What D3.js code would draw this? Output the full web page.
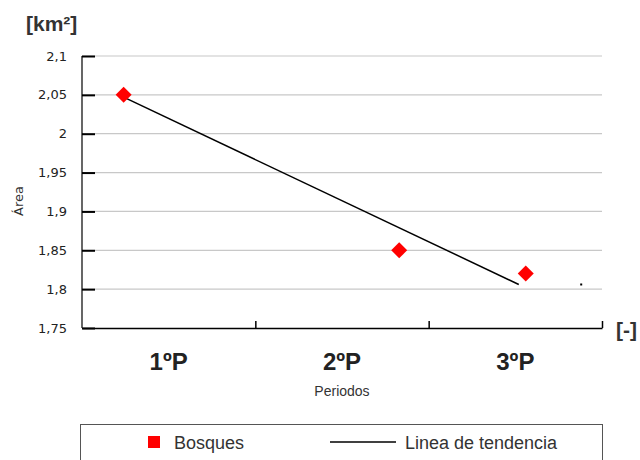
<!DOCTYPE html>
<html>
<head>
<meta charset="utf-8">
<script src="https://cdn.jsdelivr.net/npm/d3@7"></script>
<style>
  body { margin: 0; background: #fff; }
  text { font-family: "Liberation Sans", Arial, sans-serif; }
  .sm { font-family: "DejaVu Sans", Verdana, sans-serif; }
</style>
</head>
<body>
<svg id="chart" width="640" height="460"></svg>
<script>
// categories and values
const categories = ["1ºP", "2ºP", "3ºP"];
const yTicks = [1.75, 1.8, 1.85, 1.9, 1.95, 2, 2.05, 2.1];
// points sit at fractional positions along the category axis
const pointX = [0.24, 1.83, 2.56];
const bosques = [2.05, 1.85, 1.82];
// trend line end points
const trendX = [0.24, 2.52];
const trendY = [2.047, 1.806];
// stray marker at the right end
const strayX = [2.88];
const strayY = [1.806];

const svg = d3.select("#chart");
const margin = {top: 56, left: 82, right: 38, bottom: 132};
const width = 640 - margin.left - margin.right;
const height = 460 - margin.top - margin.bottom;
const fmt = d => String(d).replace(".", ",");

const x = d3.scaleLinear().domain([0, categories.length]).range([0, width]);
const y = d3.scaleLinear().domain([1.75, 2.1]).range([height, 0]);

const g = svg.append("g")
  .attr("transform", "translate(" + margin.left + "," + margin.top + ")");

// gridlines
g.selectAll(".grid")
  .data(yTicks.filter(d => d > 1.75))
  .enter().append("line")
  .attr("x1", 0).attr("x2", width)
  .attr("y1", d => y(d)).attr("y2", d => y(d))
  .attr("stroke", "#c8c8c8").attr("stroke-width", 1.2);

// y axis
const yAxis = g.append("g")
  .call(d3.axisRight(y).tickValues(yTicks).tickSize(13).tickFormat(""));
yAxis.select(".domain").remove();
yAxis.selectAll(".tick line").attr("stroke", "#000").attr("stroke-width", 2);
g.append("line").attr("x1", 0).attr("x2", 0).attr("y1", 0).attr("y2", height)
  .attr("stroke", "#000").attr("stroke-width", 1.2);
g.selectAll(".ylab")
  .data(yTicks)
  .enter().append("text")
  .attr("class", "sm")
  .attr("x", -15).attr("y", d => y(d)).attr("dy", "0.35em")
  .attr("text-anchor", "end").attr("font-size", 13).attr("fill", "#222")
  .text(fmt);

// x axis
const xAxis = g.append("g")
  .attr("transform", "translate(0," + height + ")")
  .call(d3.axisTop(x).tickValues([1, 2, 3]).tickSize(7).tickSizeOuter(0).tickFormat(""));
xAxis.select(".domain").attr("stroke", "#000").attr("stroke-width", 1.5);
xAxis.selectAll(".tick line").attr("stroke", "#000").attr("stroke-width", 1.5);

g.selectAll(".xlab")
  .data(categories)
  .enter().append("text")
  .attr("x", (d, i) => x(i + 0.5)).attr("y", height + 42)
  .attr("text-anchor", "middle").attr("font-size", 24).attr("font-weight", "bold")
  .attr("fill", "#222")
  .text(d => d);

// trend line
g.append("line")
  .attr("x1", x(trendX[0])).attr("y1", y(trendY[0]))
  .attr("x2", x(trendX[1])).attr("y2", y(trendY[1]))
  .attr("stroke", "#000").attr("stroke-width", 1.5);

g.selectAll(".stray")
  .data(strayX)
  .enter().append("rect")
  .attr("x", (d) => x(d) - 1).attr("y", (d, i) => y(strayY[i]) - 1)
  .attr("width", 2).attr("height", 2).attr("fill", "#000");

// diamonds
g.selectAll(".dot")
  .data(bosques)
  .enter().append("path")
  .attr("d", "M0,-8L8,0L0,8L-8,0Z")
  .attr("transform", (d, i) => "translate(" + x(pointX[i]) + "," + y(d) + ")")
  .attr("fill", "#ff0000");

// titles
svg.append("text").attr("x", 26).attr("y", 31)
  .attr("font-size", 21).attr("font-weight", "bold").attr("fill", "#333")
  .text("[km²]");
svg.append("text").attr("x", 616).attr("y", 337)
  .attr("font-size", 21).attr("font-weight", "bold").attr("fill", "#333")
  .text("[-]");
svg.append("text")
  .attr("class", "sm")
  .attr("transform", "translate(23,201) rotate(-90)")
  .attr("text-anchor", "middle").attr("font-size", 13).attr("fill", "#333")
  .text("Área");
svg.append("text").attr("x", margin.left + width / 2).attr("y", 396)
  .attr("text-anchor", "middle").attr("font-size", 14).attr("fill", "#333")
  .text("Periodos");

// legend
const legend = svg.append("g");
legend.append("rect")
  .attr("x", 80.5).attr("y", 424.5).attr("width", 522).attr("height", 50)
  .attr("fill", "none").attr("stroke", "#555");
legend.append("rect")
  .attr("x", 148).attr("y", 436).attr("width", 12).attr("height", 12)
  .attr("fill", "#ff0000");
legend.append("text").attr("x", 174).attr("y", 449)
  .attr("font-size", 18).attr("fill", "#333").text("Bosques");
legend.append("line")
  .attr("x1", 330).attr("x2", 396).attr("y1", 442).attr("y2", 442)
  .attr("stroke", "#000").attr("stroke-width", 1.5);
legend.append("text").attr("x", 405).attr("y", 449)
  .attr("font-size", 18).attr("fill", "#333").text("Linea de tendencia");
</script>
</body>
</html>
